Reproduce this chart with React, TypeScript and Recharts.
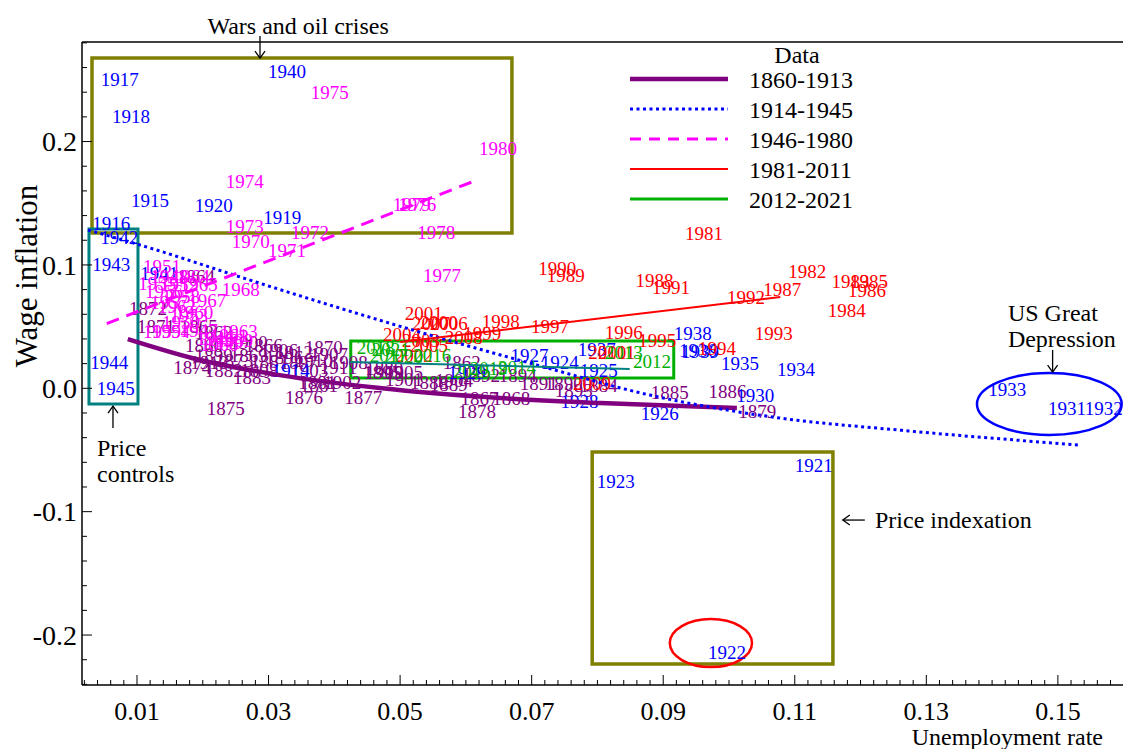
import React from 'react';
import {
  ScatterChart,
  Scatter,
  XAxis,
  YAxis,
  ReferenceArea,
  ReferenceDot,
  ReferenceLine,
  Legend,
  Label,
} from 'recharts';

const FONT = '"Liberation Serif", "Times New Roman", Times, serif';

// ---------- axes ----------
const X_DOMAIN: [number, number] = [0.00164, 0.1599];
const Y_DOMAIN: [number, number] = [-0.2405, 0.2807];

const xMajorTicks = [0.01, 0.03, 0.05, 0.07, 0.09, 0.11, 0.13, 0.15];
const xMajorLabels = ['0.01', '0.03', '0.05', '0.07', '0.09', '0.11', '0.13', '0.15'];
const xAllTicks = [
  0.002, 0.004, 0.006, 0.008, 0.01, 0.012, 0.014, 0.016, 0.018, 0.02, 0.022, 0.024, 0.026, 0.028, 0.03,
  0.032, 0.034, 0.036, 0.038, 0.04, 0.042, 0.044, 0.046, 0.048, 0.05, 0.052, 0.054, 0.056, 0.058, 0.06,
  0.062, 0.064, 0.066, 0.068, 0.07, 0.072, 0.074, 0.076, 0.078, 0.08, 0.082, 0.084, 0.086, 0.088, 0.09,
  0.092, 0.094, 0.096, 0.098, 0.1, 0.102, 0.104, 0.106, 0.108, 0.11, 0.112, 0.114, 0.116, 0.118, 0.12,
  0.122, 0.124, 0.126, 0.128, 0.13, 0.132, 0.134, 0.136, 0.138, 0.14, 0.142, 0.144, 0.146, 0.148, 0.15,
  0.152, 0.154, 0.156, 0.158,
];
const yMajorTicks = [-0.2, -0.1, 0, 0.1, 0.2];
const yMajorLabels = ['-0.2', '-0.1', '0.0', '0.1', '0.2'];
const yAllTicks = [
  -0.24, -0.22, -0.2, -0.18, -0.16, -0.14, -0.12, -0.1, -0.08, -0.06, -0.04, -0.02, 0, 0.02, 0.04, 0.06,
  0.08, 0.1, 0.12, 0.14, 0.16, 0.18, 0.2, 0.22, 0.24, 0.26, 0.28,
];

// ---------- labelled observations ----------
// 1860-1913
const years1 = [
  1860, 1861, 1862, 1863, 1864, 1865, 1866, 1867, 1868, 1869, 1870, 1871, 1872, 1873, 1874, 1875, 1876, 1877,
  1878, 1879, 1880, 1881, 1882, 1883, 1884, 1885, 1886, 1887, 1888, 1889, 1890, 1891, 1892, 1893, 1894, 1895,
  1896, 1897, 1898, 1899, 1900, 1901, 1902, 1903, 1904, 1905, 1906, 1907, 1908, 1909, 1910, 1911, 1912, 1913,
];
const unemp1 = [
  0.0173, 0.0348, 0.0565, 0.0188, 0.0161, 0.0165, 0.0264, 0.0592, 0.064, 0.0241, 0.0355, 0.01, 0.0088, 0.0219,
  0.0155, 0.0206, 0.0325, 0.0415, 0.0588, 0.1014, 0.0447, 0.0345, 0.0203, 0.0246, 0.0773, 0.0881, 0.0969, 0.0272,
  0.0515, 0.0545, 0.072, 0.0682, 0.0594, 0.0735, 0.065, 0.0444, 0.0295, 0.0317, 0.0257, 0.0188, 0.0241, 0.0477,
  0.0383, 0.0333, 0.0553, 0.0477, 0.0287, 0.0363, 0.0393, 0.0447, 0.034, 0.0378, 0.031, 0.0181,
];
const wage1 = [
  0.0351, 0.0026, 0.0213, 0.0456, 0.091, 0.0505, 0.0351, -0.0079, -0.0079, 0.027, 0.0334, 0.0505, 0.065, 0.0229,
  0.0172, -0.016, -0.0071, -0.0071, -0.0184, -0.0184, 0.0164, 0.0051, 0.0148, 0.0091, 0.0026, -0.003, -0.0022,
  0.0221, 0.0051, 0.0034, 0.0043, 0.0043, 0.0107, -0.0014, 0.0107, 0.0132, 0.0253, 0.0213, 0.0148, 0.027, 0.0375,
  0.0075, 0.0051, 0.0148, 0.0067, 0.0132, 0.031, 0.0278, 0.0213, 0.0132, 0.0229, 0.0172, 0.0294, 0.0213,
];

// 1914-1945
const years2 = [
  1914, 1915, 1916, 1917, 1918, 1919, 1920, 1921, 1922, 1923, 1924, 1925, 1926, 1927, 1928, 1929, 1930, 1931,
  1932, 1933, 1934, 1935, 1936, 1937, 1938, 1939, 1940, 1941, 1942, 1943, 1944, 1945,
];
const unemp2 = [
  0.0305, 0.0091, 0.0032, 0.0045, 0.0062, 0.0292, 0.0188, 0.11, 0.0968, 0.0799, 0.0714, 0.0773, 0.0866, 0.0668,
  0.0744, 0.0573, 0.1011, 0.1485, 0.1541, 0.1394, 0.1073, 0.0988, 0.0924, 0.077, 0.0916, 0.0927, 0.0299, 0.0105,
  0.0044, 0.0032, 0.0029, 0.0039,
];
const wage2 = [
  0.0148, 0.1526, 0.1339, 0.2506, 0.2207, 0.1388, 0.1485, -0.0622, -0.2138, -0.0752, 0.0213, 0.0148, -0.0201,
  0.0269, -0.0103, 0.0132, -0.0055, -0.016, -0.016, -0.0006, 0.0156, 0.0205, 0.031, 0.0318, 0.0448, 0.0302,
  0.2571, 0.0934, 0.1226, 0.1007, 0.0213, 0.0002,
];

// 1946-1980
const years3 = [
  1946, 1947, 1948, 1949, 1950, 1951, 1952, 1953, 1954, 1955, 1956, 1957, 1958, 1959, 1960, 1961, 1962, 1963,
  1964, 1965, 1966, 1967, 1968, 1969, 1970, 1971, 1972, 1973, 1974, 1975, 1976, 1977, 1978, 1979, 1980,
];
const unemp3 = [
  0.019, 0.0165, 0.012, 0.0203, 0.0138, 0.0109, 0.0135, 0.015, 0.0123, 0.0102, 0.0112, 0.012, 0.0138, 0.0109,
  0.0158, 0.0211, 0.0132, 0.0226, 0.0153, 0.0165, 0.0196, 0.0178, 0.0229, 0.0219, 0.0244, 0.0299, 0.0334, 0.0235,
  0.0235, 0.0364, 0.0497, 0.0535, 0.0526, 0.0489, 0.062,
];
const wage3 = [
  0.0407, 0.0472, 0.091, 0.0375, 0.0537, 0.0991, 0.0845, 0.0594, 0.0464, 0.0853, 0.0788, 0.0699, 0.0748, 0.0464,
  0.0618, 0.0432, 0.0667, 0.0464, 0.091, 0.0845, 0.0359, 0.0715, 0.0804, 0.0391, 0.1193, 0.1121, 0.1266, 0.1315,
  0.168, 0.2401, 0.1493, 0.0918, 0.1266, 0.1493, 0.1947,
];

// 1981-2011
const years4 = [
  1981, 1982, 1983, 1984, 1985, 1986, 1987, 1988, 1989, 1990, 1991, 1992, 1993, 1994, 1995, 1996, 1997, 1998,
  1999, 2000, 2001, 2002, 2003, 2004, 2005, 2006, 2007, 2008, 2009, 2010, 2011,
];
const unemp4 = [
  0.0933, 0.109, 0.1156, 0.115, 0.1184, 0.1181, 0.1052, 0.0858, 0.0723, 0.071, 0.0883, 0.0997, 0.1039, 0.0953,
  0.0862, 0.0811, 0.0699, 0.0624, 0.0596, 0.053, 0.0507, 0.0492, 0.0503, 0.0474, 0.0515, 0.0545, 0.0518, 0.0568,
  0.0763, 0.0786, 0.0801,
];
const wage4 = [
  0.1258, 0.095, 0.0869, 0.0634, 0.0869, 0.0796, 0.0804, 0.0877, 0.0918, 0.0975, 0.0821, 0.074, 0.0448, 0.0326,
  0.0391, 0.0456, 0.0505, 0.0545, 0.0448, 0.0537, 0.061, 0.0269, 0.0391, 0.044, 0.0351, 0.0529, 0.0529, 0.0415,
  0.0043, 0.0294, 0.0294,
];

// 2012-2021
const years5 = [2012, 2013, 2014, 2015, 2016, 2017, 2018, 2019, 2020, 2021];
const unemp5 = [0.0854, 0.0811, 0.0649, 0.058, 0.052, 0.0454, 0.0434, 0.0606, 0.0477, 0.0457];
const wage5 = [0.0221, 0.0294, 0.0172, 0.014, 0.0269, 0.0269, 0.0334, 0.0164, 0.0261, 0.0318];

// ---------- fitted curves ----------
const fit1U = [0.0086, 0.0196, 0.0317, 0.0469, 0.0652, 0.0804, 0.1012];
const fit1W = [0.0399, 0.0229, 0.0107, 0.0002, -0.0079, -0.012, -0.016];
const fit2U = [0.00255, 0.012, 0.0257, 0.0393, 0.0545, 0.0697, 0.088, 0.1077, 0.1257, 0.1533];
const fit2W = [0.1283, 0.1137, 0.0902, 0.0675, 0.0432, 0.0205, -0.0055, -0.0241, -0.0338, -0.046];
const fit3U = [0.0054, 0.0617];
const fit3W = [0.0525, 0.1688];
const fit4U = [0.05, 0.1078];
const fit4W = [0.0375, 0.074];
const fit5U = [0.0424, 0.0849];
const fit5W = [0.0213, 0.0156];

// ---------- highlight boxes [x1, x2, y1, y2] ----------
const warsBox = [0.00316, 0.067, 0.1258, 0.2677];
const controlsBox = [0.0027, 0.01015, -0.0128, 0.1291];
const recentBox = [0.0425, 0.0916, 0.0083, 0.0383];
const indexationBox = [0.0792, 0.1158, -0.2235, -0.0517];
const ellipse1922 = [0.091, 0.1035, -0.226, -0.1871];
const ellipseDepression = [0.1377, 0.1597, -0.0378, 0.0124];

// ---------- annotation anchors [x, y] ----------
const warsText = [0.0345, 0.2936];
const warsArrow = [0.0287, 0.2766];
const controlsArrow = [0.00635, -0.0233];
const controlsText = [0.00392, -0.0484];
const indexationArrow = [0.1173, -0.1068];
const indexationText = [0.1222, -0.1068];
const depressionText = [0.1424, 0.061];
const depressionArrow = [0.1492, 0.0221];

const legendNames = ['1860-1913', '1914-1945', '1946-1980', '1981-2011', '2012-2021'];

// ---------- styles ----------
const C_PURPLE = '#800080';
const C_BLUE = '#0000FF';
const C_MAGENTA = '#FF00FF';
const C_RED = '#FF0000';
const C_GREEN = '#00B000';
const C_TEAL = '#008080';
const C_OLIVE = '#808000';

const legendStyles = [
  { color: C_PURPLE, width: 4.5, dash: undefined as string | undefined },
  { color: C_BLUE, width: 3, dash: '3 3.5' },
  { color: C_MAGENTA, width: 3, dash: '11 8' },
  { color: C_RED, width: 2, dash: undefined },
  { color: C_GREEN, width: 3, dash: undefined },
];

const toPoints = (years: number[], u: number[], w: number[]) =>
  years.map((yr, i) => ({ x: u[i], y: w[i], year: yr }));
const toLine = (u: number[], w: number[]) => u.map((v, i) => ({ x: v, y: w[i] }));

const pts1 = toPoints(years1, unemp1, wage1);
const pts2 = toPoints(years2, unemp2, wage2);
const pts3 = toPoints(years3, unemp3, wage3);
const pts4 = toPoints(years4, unemp4, wage4);
const pts5 = toPoints(years5, unemp5, wage5);

const makeLabelShape = (color: string) => (p: any) =>
  (
    <text x={p.cx} y={p.cy} dy="0.35em" fill={color} fontSize={19} fontFamily={FONT}>
      {p.payload.year}
    </text>
  );

const EmptyShape = () => <g />;

const XTick = (props: any) => {
  const { x, y, payload } = props;
  const idx = xMajorTicks.findIndex((t) => Math.abs(t - payload.value) < 1e-9);
  const major = idx >= 0;
  return (
    <g>
      <line x1={x} x2={x} y1={y} y2={y - (major ? 10 : 5)} stroke="#000" strokeWidth={1} />
      {major && (
        <text x={x} y={y + 35} textAnchor="middle" fontSize={26} fontFamily={FONT} fill="#000">
          {xMajorLabels[idx]}
        </text>
      )}
    </g>
  );
};

const YTick = (props: any) => {
  const { x, y, payload } = props;
  const idx = yMajorTicks.findIndex((t) => Math.abs(t - payload.value) < 1e-9);
  const major = idx >= 0;
  return (
    <g>
      <line x1={x} x2={x + (major ? 10 : 5)} y1={y} y2={y} stroke="#000" strokeWidth={1} />
      {major && (
        <text x={x - 5} y={y} dy="0.35em" textAnchor="end" fontSize={28} fontFamily={FONT} fill="#000">
          {yMajorLabels[idx]}
        </text>
      )}
    </g>
  );
};

const textShape = (lines: string[], anchor: 'start' | 'middle' | 'end', size: number) => (p: any) =>
  (
    <text x={p.cx} y={p.cy} textAnchor={anchor} fontSize={size} fontFamily={FONT} fill="#000">
      {lines.map((l, i) => (
        <tspan key={i} x={p.cx} dy={i === 0 ? '0.35em' : '1.05em'}>
          {l}
        </tspan>
      ))}
    </text>
  );

const arrowShape = (dir: 'up' | 'down' | 'left') => (p: any) => {
  const { cx, cy } = p;
  if (dir === 'left') {
    const tipX = cx;
    return (
      <g stroke="#000" strokeWidth={1.3} fill="none">
        <line x1={tipX} x2={tipX + 22} y1={cy} y2={cy} />
        <polyline points={`${tipX + 7},${cy - 5} ${tipX},${cy} ${tipX + 7},${cy + 5}`} />
      </g>
    );
  }
  const s = dir === 'down' ? 1 : -1;
  const tipY = cy + s * 11;
  return (
    <g stroke="#000" strokeWidth={1.3} fill="none">
      <line x1={cx} x2={cx} y1={cy - s * 11} y2={tipY} />
      <polyline points={`${cx - 5},${tipY - s * 7} ${cx},${tipY} ${cx + 5},${tipY - s * 7}`} />
    </g>
  );
};

const ellipseShape = (color: string) => (p: any) => {
  const { x, y, width, height } = p;
  return (
    <ellipse
      cx={x + width / 2}
      cy={y + height / 2}
      rx={Math.abs(width) / 2}
      ry={Math.abs(height) / 2}
      fill="none"
      stroke={color}
      strokeWidth={2.5}
    />
  );
};

const LegendContent = () => {
  const rowY = [41, 71, 101, 131, 161];
  return (
    <svg width={270} height={180} style={{ display: 'block', overflow: 'visible' }}>
      <text x={179} y={17} dy="0.35em" textAnchor="middle" fontSize={24} fontFamily={FONT} fill="#000">
        Data
      </text>
      {legendNames.map((name, i) => (
        <g key={name}>
          <line
            x1={12}
            x2={110}
            y1={rowY[i]}
            y2={rowY[i]}
            stroke={legendStyles[i].color}
            strokeWidth={legendStyles[i].width}
            strokeDasharray={legendStyles[i].dash}
          />
          <text x={131} y={rowY[i] + 1} dy="0.35em" fontSize={24} fontFamily={FONT} fill="#000">
            {name}
          </text>
        </g>
      ))}
    </svg>
  );
};

export default function App() {
  return (
    <div style={{ position: 'absolute', left: 0, top: 0, width: 1123, height: 749, background: '#fff' }}>
      <ScatterChart width={1123} height={749} margin={{ top: 42, right: 0, bottom: 0, left: 0 }}>
        <XAxis
          type="number"
          dataKey="x"
          domain={X_DOMAIN}
          allowDataOverflow
          ticks={xAllTicks}
          interval={0}
          tick={<XTick />}
          tickLine={false}
          tickSize={0}
          tickMargin={0}
          height={64}
          axisLine={{ stroke: '#000', strokeWidth: 1.5 }}
        >
          <Label
            content={(p: any) => {
              const vb = p.viewBox || { x: 82, y: 685, width: 1041, height: 64 };
              return (
                <text x={vb.x + vb.width - 20} y={vb.y + 60} textAnchor="end" fontSize={24} fontFamily={FONT} fill="#000">
                  Unemployment rate
                </text>
              );
            }}
          />
        </XAxis>
        <YAxis
          type="number"
          dataKey="y"
          domain={Y_DOMAIN}
          allowDataOverflow
          ticks={yAllTicks}
          interval={0}
          tick={<YTick />}
          tickLine={false}
          tickSize={0}
          tickMargin={0}
          width={82}
          axisLine={{ stroke: '#000', strokeWidth: 1.5 }}
        >
          <Label
            content={(p: any) => {
              const vb = p.viewBox || { x: 0, y: 42, width: 82, height: 643 };
              const cx = vb.x + 37;
              const cy = vb.y + 234;
              return (
                <text
                  x={cx}
                  y={cy}
                  transform={`rotate(-90 ${cx} ${cy})`}
                  textAnchor="middle"
                  fontSize={31}
                  fontFamily={FONT}
                  fill="#000"
                >
                  Wage inflation
                </text>
              );
            }}
          />
        </YAxis>

        <ReferenceLine y={Y_DOMAIN[1]} stroke="#000" strokeWidth={1.5} ifOverflow="visible" />

        <ReferenceArea x1={warsBox[0]} x2={warsBox[1]} y1={warsBox[2]} y2={warsBox[3]} fill="none" fillOpacity={0} stroke={C_OLIVE} strokeWidth={3.5} ifOverflow="visible" />
        <ReferenceArea x1={controlsBox[0]} x2={controlsBox[1]} y1={controlsBox[2]} y2={controlsBox[3]} fill="none" fillOpacity={0} stroke={C_TEAL} strokeWidth={3} ifOverflow="visible" />
        <ReferenceArea x1={recentBox[0]} x2={recentBox[1]} y1={recentBox[2]} y2={recentBox[3]} fill="none" fillOpacity={0} stroke={C_GREEN} strokeWidth={3} ifOverflow="visible" />
        <ReferenceArea x1={indexationBox[0]} x2={indexationBox[1]} y1={indexationBox[2]} y2={indexationBox[3]} fill="none" fillOpacity={0} stroke={C_OLIVE} strokeWidth={3.5} ifOverflow="visible" />
        <ReferenceArea x1={ellipse1922[0]} x2={ellipse1922[1]} y1={ellipse1922[2]} y2={ellipse1922[3]} shape={ellipseShape(C_RED)} ifOverflow="visible" />
        <ReferenceArea x1={ellipseDepression[0]} x2={ellipseDepression[1]} y1={ellipseDepression[2]} y2={ellipseDepression[3]} shape={ellipseShape(C_BLUE)} ifOverflow="visible" />

        <Scatter data={pts1} shape={makeLabelShape(C_PURPLE)} isAnimationActive={false} />
        <Scatter data={pts2} shape={makeLabelShape(C_BLUE)} isAnimationActive={false} />
        <Scatter data={pts3} shape={makeLabelShape(C_MAGENTA)} isAnimationActive={false} />
        <Scatter data={pts4} shape={makeLabelShape(C_RED)} isAnimationActive={false} />
        <Scatter data={pts5} shape={makeLabelShape(C_GREEN)} isAnimationActive={false} />

        <Scatter data={toLine(fit1U, fit1W)} shape={EmptyShape} line={{ stroke: C_PURPLE, strokeWidth: 4.5 }} lineJointType="monotoneX" isAnimationActive={false} />
        <Scatter data={toLine(fit2U, fit2W)} shape={EmptyShape} line={{ stroke: C_BLUE, strokeWidth: 3, strokeDasharray: '3 3.5' }} lineJointType="monotoneX" isAnimationActive={false} />
        <Scatter data={toLine(fit3U, fit3W)} shape={EmptyShape} line={{ stroke: C_MAGENTA, strokeWidth: 3, strokeDasharray: '13 8' }} isAnimationActive={false} />
        <Scatter data={toLine(fit4U, fit4W)} shape={EmptyShape} line={{ stroke: C_RED, strokeWidth: 2 }} isAnimationActive={false} />
        <Scatter data={toLine(fit5U, fit5W)} shape={EmptyShape} line={{ stroke: C_TEAL, strokeWidth: 2 }} isAnimationActive={false} />

        <ReferenceDot x={warsText[0]} y={warsText[1]} ifOverflow="visible" shape={textShape(['Wars and oil crises'], 'middle', 24)} />
        <ReferenceDot x={warsArrow[0]} y={warsArrow[1]} ifOverflow="visible" shape={arrowShape('down')} />
        <ReferenceDot x={controlsArrow[0]} y={controlsArrow[1]} ifOverflow="visible" shape={arrowShape('up')} />
        <ReferenceDot x={controlsText[0]} y={controlsText[1]} ifOverflow="visible" shape={textShape(['Price', 'controls'], 'start', 24)} />
        <ReferenceDot x={indexationArrow[0]} y={indexationArrow[1]} ifOverflow="visible" shape={arrowShape('left')} />
        <ReferenceDot x={indexationText[0]} y={indexationText[1]} ifOverflow="visible" shape={textShape(['Price indexation'], 'start', 24)} />
        <ReferenceDot x={depressionText[0]} y={depressionText[1]} ifOverflow="visible" shape={textShape(['US Great', 'Depression'], 'start', 24)} />
        <ReferenceDot x={depressionArrow[0]} y={depressionArrow[1]} ifOverflow="visible" shape={arrowShape('down')} />

        <Legend
          layout="horizontal"
          verticalAlign="middle"
          align="center"
          content={LegendContent}
          wrapperStyle={{ position: 'absolute', left: 618, top: 38, width: 270, height: 180 }}
        />
      </ScatterChart>
    </div>
  );
}
